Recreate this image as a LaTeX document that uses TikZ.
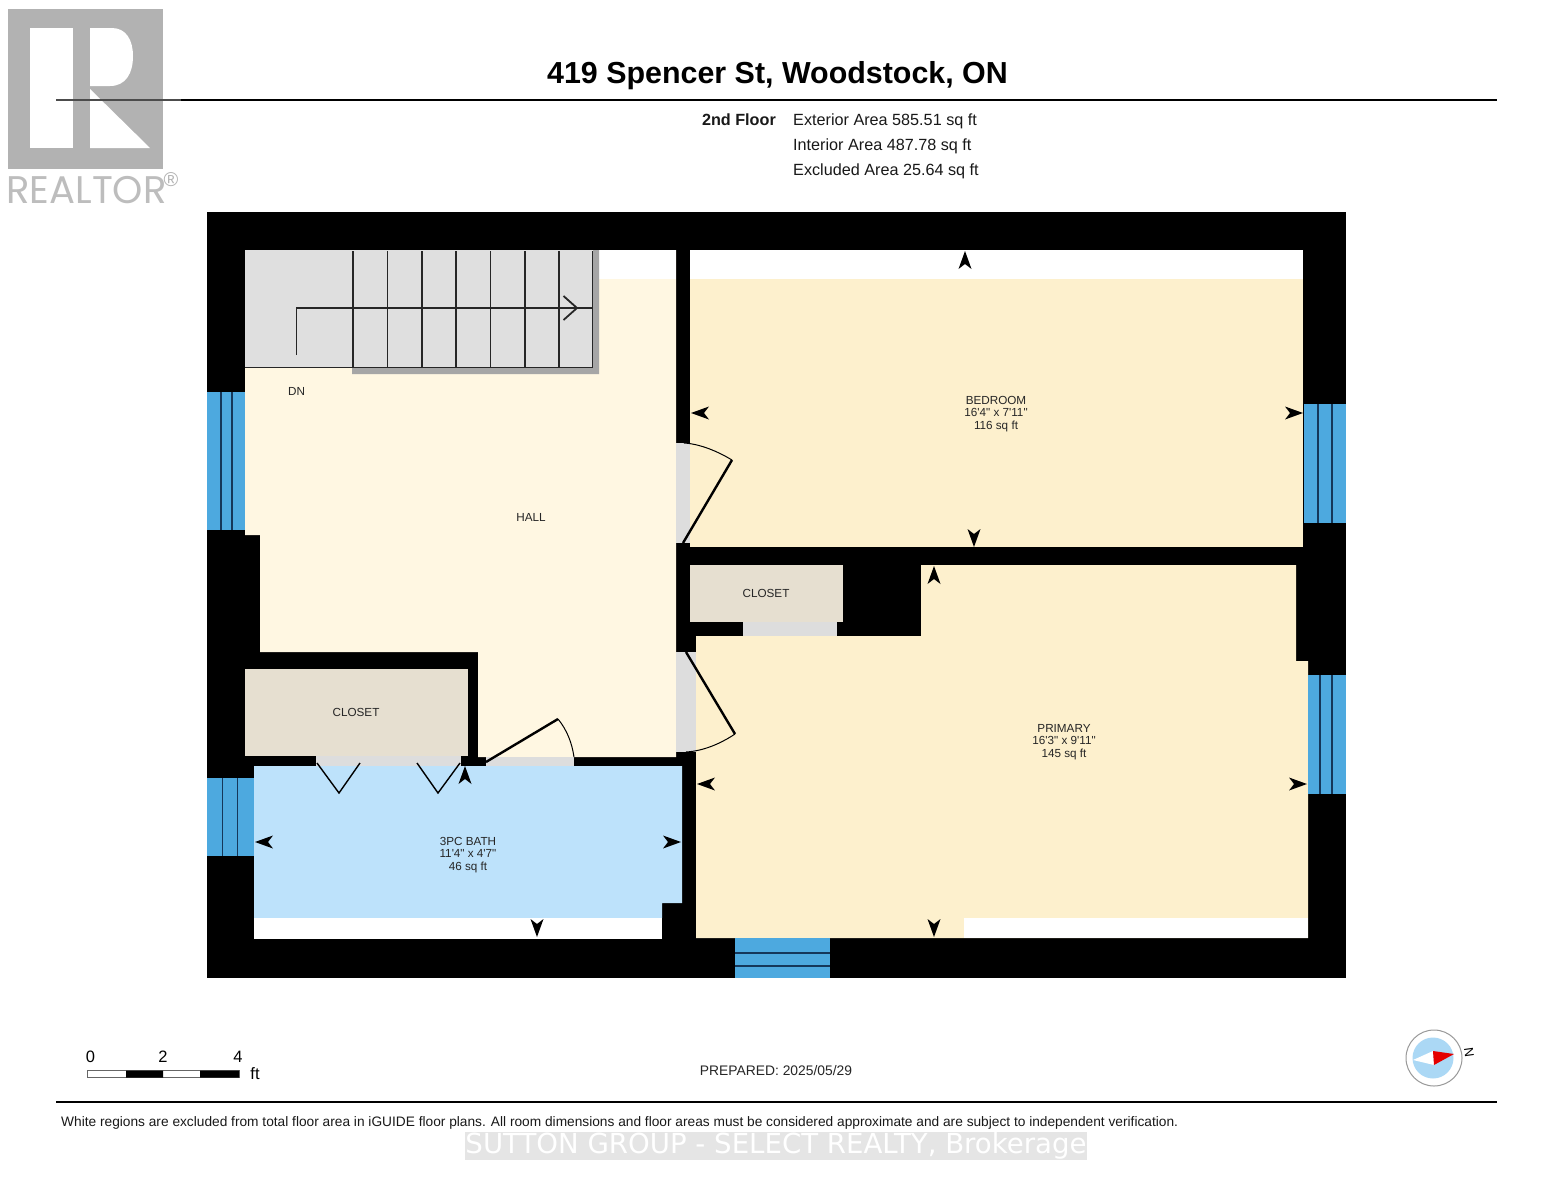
\documentclass[tikz,border=0pt]{standalone}
\usepackage{fontspec}
\setmainfont{Liberation Sans}[Ligatures=TeXOff]
\newfontfamily\markfont{DejaVu Sans}
\newfontfamily\logofont{Poppins}
\usepackage{tikz}

\definecolor{hallcol}{HTML}{FFF7E2}
\definecolor{roomcol}{HTML}{FDF0CD}
\definecolor{closetcol}{HTML}{E6DFD0}
\definecolor{bathcol}{HTML}{BDE2FB}
\definecolor{compasscol}{HTML}{ABD8F5}
\definecolor{windowcol}{HTML}{4DA9DF}
\definecolor{windowline}{HTML}{15375A}
\definecolor{doorcol}{HTML}{DDDDDD}
\definecolor{stepcol}{HTML}{DFDFDF}
\definecolor{logocol}{HTML}{B2B2B2}

\begin{document}
\begin{tikzpicture}[
  x=1pt,y=-1pt,
  line join=miter,
  label/.style={
     inner sep=0pt,
     align=center,
     text=black!85,
     font=\fontsize{11.7}{12.6}\selectfont,
  },
  info/.style={
     inner sep=0pt,
     text=black!90,
     font=\fontsize{16.2}{18}\selectfont,
  },
  door/.style={line width=2.4pt,black},
  swing/.style={line width=1pt,black},
  stepline/.style={line width=1.8pt,black!85},
  dimtip/.pic={\fill[black] (0,0) -- (-18,6.5) -- (-13,0) -- (-18,-6.5) -- cycle;},
]
   \useasboundingbox (0,0) rectangle (1553,1200);
   \fill[white] (0,0) rectangle (1553,1200);

   \fill[logocol] (8,9) rectangle (163,169);
   \fill[white] (30,28) rectangle (73,148);
   \fill[white] (90,28) -- (112,28) .. controls (126,28) and (133,40) .. (133,56)
      .. controls (133,73) and (126,86) .. (110,86) -- (90,86) -- cycle;
   \fill[white] (90,89) -- (150,148) -- (90,148) -- cycle;
   \node[inner sep=0pt,text=logocol!85,font=\logofont\fontsize{38.5}{38}\selectfont] (realtor) at (86.5,190) {REALTOR};
   \node[inner sep=0pt,text=logocol,font=\fontsize{20}{20}\selectfont] (regmark) at (171,180) {®};

   \draw[line width=1.8pt,black!70] (56,100) -- (181,100);
   \draw[line width=2.4pt,black] (181,100) -- (1497,100);
   \draw[line width=2.4pt,black] (56,1102) -- (1497,1102);

   \node[inner sep=0pt,font=\bfseries\fontsize{30.4}{31}\selectfont] (title) at (777.5,75.5) {419 Spencer St, Woodstock, ON};
   \node[info,anchor=east,font=\bfseries\fontsize{16.2}{18}\selectfont] (floor) at (776,119.5) {2nd Floor};
   \node[info,anchor=west] (exterior) at (793,121.5) {Exterior Area 585.51 sq ft};
   \node[info,anchor=west] (interior) at (793,146.5) {Interior Area 487.78 sq ft};
   \node[info,anchor=west] (excluded) at (793,171.5) {Excluded Area 25.64 sq ft};

   \fill[black] (207,212) rectangle (1346,978);

   \fill[hallcol] (245,250) -- (676,250) -- (676,757) -- (478,757) -- (478,652)
      -- (260,652) -- (260,535) -- (245,535) -- cycle;
   \fill[white] (598,250) rectangle (676,279);
   \fill[white] (690,250) rectangle (1303,279);
   \fill[roomcol] (690,279) rectangle (1303,547);
   \fill[roomcol] (696,636) -- (921,636) -- (921,565) -- (1296,565) -- (1296,661)
      -- (1308,661) -- (1308,938) -- (696,938) -- cycle;
   \fill[white] (964,918) rectangle (1308,938);
   \fill[closetcol] (690,565) rectangle (843,622);
   \fill[closetcol] (245,669) rectangle (468,756);
   \fill[bathcol] (254,766) -- (682,766) -- (682,903) -- (662,903) -- (662,918) -- (254,918) -- cycle;
   \fill[white] (254,918) rectangle (662,939);

   \fill[doorcol] (676,443) rectangle (690,543);
   \fill[doorcol] (676,652) rectangle (696,752);
   \fill[doorcol] (743,622) rectangle (837,636);
   \fill[doorcol] (316,756) rectangle (461,766);
   \fill[doorcol] (486,757) rectangle (574,766);

   \foreach \xa/\xb/\ya/\yb/\la/\lb in {207/245/392/530/221/232,1304/1346/404/523/1318/1332,
      1308/1346/675/794/1320/1332,207/254/778/856/222.5/237.5} {
      \fill[windowcol] (\xa,\ya) rectangle (\xb,\yb);
      \draw[windowline,line width=1.5pt] (\la,\ya) -- (\la,\yb) (\lb,\ya) -- (\lb,\yb);
   }
   \fill[windowcol] (735,938) rectangle (830,978);
   \draw[windowline,line width=1.5pt] (735,953) -- (830,953) (735,966) -- (830,966);

   \fill[stepcol] (245,250) rectangle (593,367);
   \fill[black!35] (352,367) -- (593,367) -- (593,250) -- (599,250) -- (599,374) -- (352,374) -- cycle;
   \foreach \stepx in {353,387.5,422,456,490.5,525,559,592.5} {
      \draw[stepline] (\stepx,251) -- (\stepx,367);
   }
   \draw[stepline] (245,367.5) -- (592.5,367.5) (353,308) -- (592.5,308);
   \draw[stepline] (296.5,355) -- (296.5,308) -- (577,308);
   \draw[stepline] (563.5,296) -- (577,308) -- (563.5,320);

   \draw[door] (683,543) -- (732,460);
   \draw[swing] (684,443) .. controls (700,444) and (717,451) .. (732,460);
   \draw[door] (686,652) -- (735,734);
   \draw[swing] (735,734) .. controls (720,744) and (703,751) .. (686,752);
   \draw[door] (486,762) -- (558,719);
   \draw[swing] (558,719) .. controls (567,730) and (572,743) .. (574,757);
   \draw[line width=1.4pt] (317,763) -- (339,793) -- (360,763);
   \draw[line width=1.4pt] (417,763) -- (438,793) -- (460,763);

   \foreach \tipx/\tipy/\tipang in {965/251/90,691/413/180,1303/413/0,974/547/270,934/566/90,
      697/784/180,1307/784/0,934/937/270,255/842/180,681/842/0,465/766/90,537/937/270} {
      \pic[rotate=\tipang] at (\tipx,\tipy) {dimtip};
   }

   \node[label] (hall) at (531,517) {HALL};
   \node[label] (dn) at (296.5,391) {DN};
   \node[label] (bedroom) at (996,414) {BEDROOM\\16'4" x 7'11"\\116 sq ft};
   \node[label] (primary) at (1064,742) {PRIMARY\\16'3" x 9'11"\\145 sq ft};
   \node[label] (bath) at (468,855) {3PC BATH\\11'4" x 4'7"\\46 sq ft};
   \node[label] (closetA) at (356,712) {CLOSET};
   \node[label] (closetB) at (766,593) {CLOSET};

   \draw[line width=.7pt,black!60,fill=white] (87,1070.5) rectangle (239,1077.5);
   \fill[black] (126,1070.5) rectangle (163,1077.5) (200,1070.5) rectangle (239,1077.5);
   \node[inner sep=0pt,font=\fontsize{16.5}{17}\selectfont] (scaleA) at (90.5,1057) {0};
   \node[inner sep=0pt,font=\fontsize{16.5}{17}\selectfont] (scaleB) at (163,1057) {2};
   \node[inner sep=0pt,font=\fontsize{16.5}{17}\selectfont] (scaleC) at (238,1057) {4};
   \node[inner sep=0pt,font=\fontsize{16.5}{17}\selectfont] (scaleD) at (255,1073.5) {ft};

   \node[inner sep=0pt,text=black!85,font=\fontsize{13.85}{15}\selectfont] (prepared) at (776,1071) {PREPARED: 2025/05/29};

   \draw[black!40,line width=1pt] (1434,1058) circle (28);
   \fill[compasscol] (1433,1058) circle (20.5);
   \fill[white] (1413,1060) -- (1433,1051) -- (1434,1065) -- cycle;
   \fill[red!90!black] (1433,1051) -- (1454,1054) -- (1434,1065) -- cycle;
   \node[inner sep=0pt,rotate=98,font=\fontsize{13}{13}\selectfont] (north) at (1469,1052) {N};

   \node[anchor=west,inner sep=0pt,text=black!90,font=\fontsize{13.72}{15}\selectfont] (notice) at (61,1122.5)
      {White regions are excluded from total floor area in iGUIDE floor plans. All room dimensions and floor areas must be considered approximate and are subject to independent verification.};

   \fill[black!10] (465,1132) rectangle (1087,1160);
   \node[inner sep=0pt,text=white,font=\markfont\fontsize{27.6}{28}\selectfont] (brokerage) at (776,1146)
      {SUTTON GROUP - SELECT REALTY, Brokerage};
\end{tikzpicture}
\end{document}
